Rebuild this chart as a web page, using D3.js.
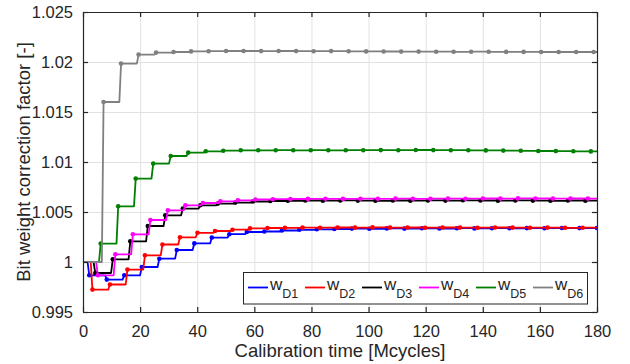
<!DOCTYPE html>
<html>
<head>
<meta charset="utf-8">
<script src="https://cdn.jsdelivr.net/npm/d3@7"></script>
<style>
  body { margin: 0; background: #fff; }
  svg { font-family: "Liberation Sans", Arial, sans-serif; }
</style>
</head>
<body>
<div id="chart"></div>
<script>
// Chart data
// ==============================
var seriesNames = ["D1", "D2", "D3", "D4", "D5", "D6"];
var xTicks = [0, 20, 40, 60, 80, 100, 120, 140, 160, 180];
var yTicks = [0.995, 1, 1.005, 1.01, 1.015, 1.02, 1.025];

// every weight is updated once per calibration round (Mcycles), each with its own offset
var roundLength = 6.13;
var firstUpdate = [1.6, 2.7, 3.7, 4.6, 5.6, 6.6];
var startValue = 1;

var wD1 = [0.99867, 0.99824, 0.99867, 0.9995, 1.00033, 1.0012, 1.00186, 1.00244, 1.00278, 1.0030,
    1.00305, 1.00315, 1.00322, 1.00327, 1.0033, 1.00334, 1.00332, 1.00336, 1.00334, 1.00337,
    1.00335, 1.00338, 1.00336, 1.00338, 1.00337, 1.00339, 1.00338, 1.0034, 1.00339, 1.0034];
var wD2 = [0.99724, 0.99775, 0.99924, 1.00067, 1.00175, 1.00247, 1.00292, 1.0031, 1.00323, 1.00336,
    1.0034, 1.00342, 1.00344, 1.00343, 1.00345, 1.00344, 1.00346, 1.00344, 1.00345, 1.00343,
    1.00345, 1.00344, 1.00343, 1.00345, 1.00344, 1.00343, 1.00344, 1.00342, 1.00343, 1.00342];
var wD3 = [0.9989, 1.00027, 1.00207, 1.0036, 1.00467, 1.00534, 1.00567, 1.00584, 1.00594, 1.00605,
    1.0061, 1.00612, 1.00615, 1.00613, 1.00616, 1.00614, 1.00612, 1.00615, 1.00613, 1.00616,
    1.00614, 1.00617, 1.00615, 1.00613, 1.00616, 1.00614, 1.00612, 1.00615, 1.00613, 1.00614];
var wD4 = [0.99867, 1.00077, 1.00277, 1.0042, 1.00517, 1.00567, 1.0059, 1.00607, 1.00617, 1.00625,
    1.00628, 1.0063, 1.00631, 1.00632, 1.00631, 1.00633, 1.00632, 1.00634, 1.00632, 1.00633,
    1.00634, 1.00633, 1.00635, 1.00634, 1.00636, 1.00635, 1.00634, 1.00635, 1.00634, 1.00634];
var wD5 = [1.00184, 1.00557, 1.00834, 1.00984, 1.0106, 1.01094, 1.01107, 1.01113, 1.01117, 1.01117,
    1.01118, 1.01117, 1.01118, 1.01117, 1.01118, 1.01118, 1.01119, 1.01118, 1.0112, 1.01119,
    1.01118, 1.01117, 1.01116, 1.01114, 1.01112, 1.0111, 1.01109, 1.01107, 1.01106, 1.01105];
var wD6 = [1.016, 1.01984, 1.02074, 1.02094, 1.021, 1.02106, 1.02108, 1.0211, 1.0211, 1.02109,
    1.0211, 1.02109, 1.02108, 1.02109, 1.02107, 1.02106, 1.02105, 1.02104, 1.02104, 1.02103,
    1.02102, 1.02103, 1.02102, 1.02101, 1.02101, 1.021, 1.021, 1.021, 1.021, 1.021];

var seriesValues = [wD1, wD2, wD3, wD4, wD5, wD6];
var seriesColors = ["#0000ff", "#ff0000", "#000000", "#ff00ff", "#008000", "#808080"];

// SVG area
// ==============================
var svgWidth = 630;
var svgHeight = 364;
var chartMargin = { top: 12, right: 33, bottom: 52, left: 83 };
var chartWidth = svgWidth - chartMargin.left - chartMargin.right;
var chartHeight = svgHeight - chartMargin.top - chartMargin.bottom;

var svg = d3.select("#chart")
    .append("svg")
    .attr("width", svgWidth)
    .attr("height", svgHeight);

var chartGroup = svg.append("g")
    .attr("transform", `translate(${chartMargin.left}, ${chartMargin.top})`);

var xScale = d3.scaleLinear().domain([0, 180]).range([0, chartWidth]);
var yScale = d3.scaleLinear().domain([0.995, 1.025]).range([chartHeight, 0]);

var axisColor = "#262626";

// grid
chartGroup.append("g")
    .attr("class", "grid")
    .attr("transform", `translate(0, ${chartHeight})`)
    .call(d3.axisBottom(xScale).tickValues(xTicks).tickSize(-chartHeight).tickFormat(""));
chartGroup.append("g")
    .attr("class", "grid")
    .call(d3.axisLeft(yScale).tickValues(yTicks).tickSize(-chartWidth).tickFormat(""));
chartGroup.selectAll(".grid .domain").remove();
chartGroup.selectAll(".grid line").attr("stroke", "#e2e2e2").attr("stroke-width", 1);

// series
chartGroup.append("clipPath").attr("id", "plotClip")
    .append("rect").attr("width", chartWidth).attr("height", chartHeight);

var rise = 0.6;
var line = d3.line().x(d => xScale(d[0])).y(d => yScale(d[1]));

seriesValues.forEach(function (values, i) {
    var pts = [[0, startValue]];
    var marks = [];
    var prev = startValue;
    values.forEach(function (v, k) {
        var t = firstUpdate[i] + k * roundLength;
        if (t > 180) return;
        pts.push([t, prev]);
        pts.push([t + rise, v]);
        marks.push([t + rise, v]);
        prev = v;
    });
    pts.push([180, prev]);

    var g = chartGroup.append("g").attr("clip-path", "url(#plotClip)");
    g.append("path")
        .attr("d", line(pts))
        .attr("fill", "none")
        .attr("stroke", seriesColors[i])
        .attr("stroke-width", 1.8)
        .attr("stroke-linejoin", "round");
    g.selectAll("circle")
        .data(marks)
        .enter()
        .append("circle")
        .attr("cx", d => xScale(d[0]))
        .attr("cy", d => yScale(d[1]))
        .attr("r", 2.3)
        .attr("fill", seriesColors[i]);
});

// axes with inner ticks on all four sides
var bottomAxis = d3.axisBottom(xScale).tickValues(xTicks).tickSizeInner(-5).tickSizeOuter(0).tickPadding(13);
var leftAxis = d3.axisLeft(yScale).tickValues(yTicks).tickSizeInner(-5).tickSizeOuter(0).tickPadding(10)
    .tickFormat(d3.format("~g"));
var topAxis = d3.axisTop(xScale).tickValues(xTicks).tickSizeInner(-5).tickSizeOuter(0).tickFormat("");
var rightAxis = d3.axisRight(yScale).tickValues(yTicks).tickSizeInner(-5).tickSizeOuter(0).tickFormat("");

chartGroup.append("g").attr("class", "axis").attr("transform", `translate(0, ${chartHeight})`).call(bottomAxis);
chartGroup.append("g").attr("class", "axis").call(leftAxis);
chartGroup.append("g").attr("class", "axis").call(topAxis);
chartGroup.append("g").attr("class", "axis").attr("transform", `translate(${chartWidth}, 0)`).call(rightAxis);

chartGroup.selectAll(".axis .domain").attr("stroke", axisColor).attr("stroke-width", 1.2);
chartGroup.selectAll(".axis line").attr("stroke", axisColor).attr("stroke-width", 1.2);
chartGroup.selectAll(".axis text").attr("fill", axisColor).attr("font-size", 16.5)
    .attr("font-family", "'Liberation Sans', Arial, sans-serif");

// legend
var legendGroup = chartGroup.append("g")
    .attr("transform", `translate(${243.5 - chartMargin.left}, ${272.5 - chartMargin.top})`);
legendGroup.append("rect")
    .attr("width", 344)
    .attr("height", 31.5)
    .attr("fill", "#fff")
    .attr("stroke", axisColor)
    .attr("stroke-width", 1);

seriesNames.forEach(function (name, i) {
    var x0 = 4.5 + i * 57;
    legendGroup.append("line")
        .attr("x1", x0).attr("x2", x0 + 20)
        .attr("y1", 15).attr("y2", 15)
        .attr("stroke", seriesColors[i])
        .attr("stroke-width", 1.8);
    var label = legendGroup.append("text")
        .attr("x", x0 + 22)
        .attr("y", 17.5)
        .attr("font-size", 17)
        .attr("fill", axisColor);
    label.append("tspan").text("w");
    label.append("tspan").attr("dy", 8).attr("font-size", 12.5).text(name);
});

// axes labels
chartGroup.append("text")
    .attr("transform", "rotate(-90)")
    .attr("x", -chartHeight / 2)
    .attr("y", 30 - chartMargin.left)
    .attr("text-anchor", "middle")
    .attr("font-size", 18.5)
    .attr("fill", axisColor)
    .text("Bit weight correction factor [-]");

chartGroup.append("text")
    .attr("x", chartWidth / 2)
    .attr("y", 357 - chartMargin.top)
    .attr("text-anchor", "middle")
    .attr("font-size", 18.5)
    .attr("fill", axisColor)
    .text("Calibration time [Mcycles]");
</script>
</body>
</html>
